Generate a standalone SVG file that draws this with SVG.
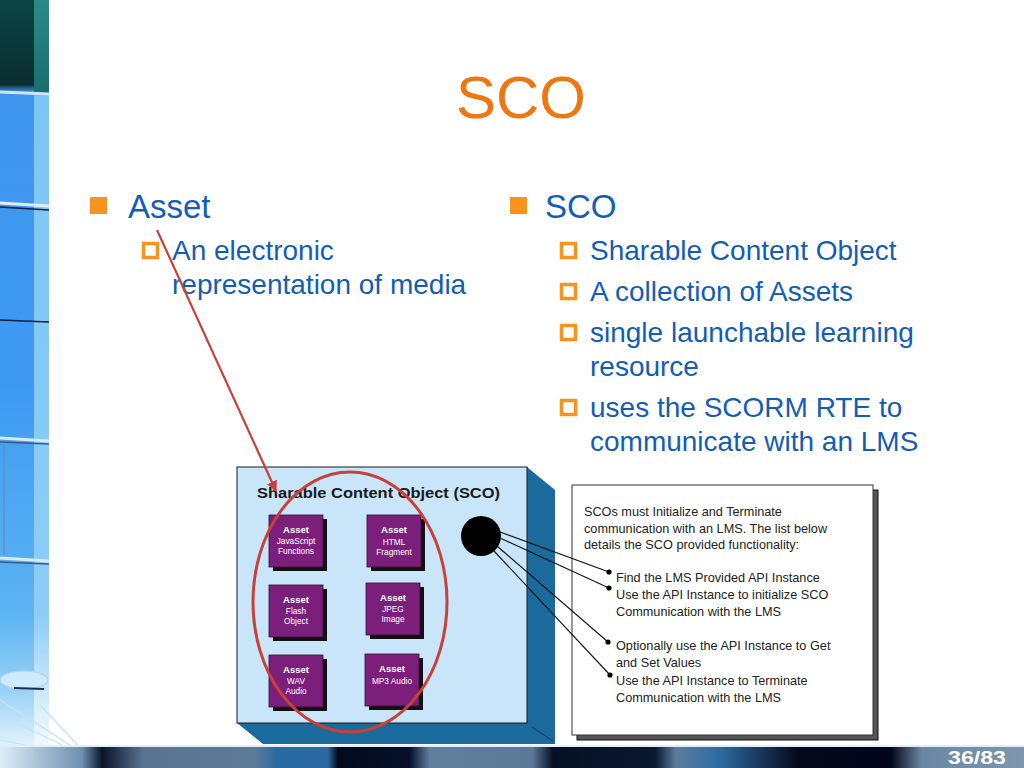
<svg xmlns="http://www.w3.org/2000/svg" width="1024" height="768" viewBox="0 0 1024 768">
<style>
.blue{font-family:"Liberation Sans",Arial,sans-serif;fill:#135DB5}
.h1{font-size:33px}
.h2{font-size:28px}
.fb{fill:#F7931E}
.hb{fill:none;stroke:#F7931E;stroke-width:3.5}
.asset{fill:#7B1F7B;stroke:#3a0a3a;stroke-width:0.8}
.shadow{fill:#111}
.at{font-family:"Liberation Sans",Arial,sans-serif;fill:#fff;text-anchor:middle}
.atb{font-size:9.5px;font-weight:bold}
.ats{font-size:8.3px}
.pt{font-family:"Liberation Sans",Arial,sans-serif;font-size:12.7px;fill:#222}
.conn{stroke:#111;stroke-width:1.1;fill:none}
</style>
<defs>
<linearGradient id="strip" x1="0" y1="0" x2="0" y2="1">
<stop offset="0" stop-color="#0c4446"/>
<stop offset="0.11" stop-color="#0a2d30"/>
<stop offset="0.12" stop-color="#3f95ee"/>
<stop offset="0.5" stop-color="#3d9af2"/>
<stop offset="0.8" stop-color="#5cb4f2"/>
<stop offset="0.9" stop-color="#9ad2f6"/>
<stop offset="1" stop-color="#ffffff"/>
</linearGradient>
<linearGradient id="strip2" x1="0" y1="0" x2="0" y2="1">
<stop offset="0" stop-color="#2a8a86"/>
<stop offset="0.12" stop-color="#1a6e70"/>
<stop offset="0.125" stop-color="#7cc6f6"/>
<stop offset="0.8" stop-color="#8ccdf6"/>
<stop offset="0.92" stop-color="#d8eefc"/>
<stop offset="1" stop-color="#ffffff"/>
</linearGradient>
<linearGradient id="bar" x1="0" y1="0" x2="1" y2="0">
<stop offset="0" stop-color="#dfeefa"/>
<stop offset="0.08" stop-color="#6e8fae"/>
<stop offset="0.1" stop-color="#0a1428"/>
<stop offset="0.14" stop-color="#5a7391"/>
<stop offset="0.25" stop-color="#5d7a99"/>
<stop offset="0.27" stop-color="#2a6aa2"/>
<stop offset="0.32" stop-color="#2a6aa2"/>
<stop offset="0.33" stop-color="#040a1c"/>
<stop offset="0.4" stop-color="#06102a"/>
<stop offset="0.42" stop-color="#61809e"/>
<stop offset="0.52" stop-color="#5b7896"/>
<stop offset="0.54" stop-color="#071024"/>
<stop offset="0.64" stop-color="#0a1830"/>
<stop offset="0.66" stop-color="#5d7b99"/>
<stop offset="0.7" stop-color="#2f6ea4"/>
<stop offset="0.78" stop-color="#04081a"/>
<stop offset="0.87" stop-color="#03061a"/>
<stop offset="0.9" stop-color="#6a86a2"/>
<stop offset="1" stop-color="#7d97b0"/>
</linearGradient>
<marker id="redArrow" viewBox="0 0 10 10" refX="9" refY="5" markerWidth="5" markerHeight="5" orient="auto">
<path d="M0,0 L10,5 L0,10 z" fill="#C8403A"/>
</marker>
</defs>
<rect width="1024" height="768" fill="#fff"/>

<g id="background">
<rect x="0" y="0" width="34" height="768" fill="url(#strip)"/>
<rect x="34" y="0" width="15" height="768" fill="url(#strip2)"/>
<g stroke-width="3">
<line x1="0" y1="92" x2="49" y2="94" stroke="#d0e6f6"/>
<line x1="0" y1="203" x2="49" y2="206" stroke="#e0eef8"/>
<line x1="0" y1="207" x2="49" y2="210" stroke="#0d2040" stroke-width="1.5"/>
<line x1="0" y1="320" x2="49" y2="322" stroke="#0d2040" stroke-width="1.5"/>
<line x1="0" y1="438" x2="49" y2="441" stroke="#d8eaf8"/>
<line x1="0" y1="442" x2="49" y2="444" stroke="#3a5a80" stroke-width="1.5"/>
<line x1="0" y1="558" x2="49" y2="561" stroke="#d8eaf8"/>
<line x1="0" y1="562" x2="49" y2="564" stroke="#3a5a80" stroke-width="1.5"/>
<line x1="4" y1="445" x2="4" y2="555" stroke="#6a8fb6" stroke-width="1.5"/>
</g>
<g stroke="#bfe4fa" stroke-width="1.2" fill="none">
<ellipse cx="24" cy="680" rx="24" ry="9" fill="#cfeafa" stroke="#aad6f4"/>
<line x1="14" y1="688" x2="44" y2="689" stroke="#1a3050" stroke-width="2"/>
<line x1="90" y1="758" x2="0" y2="700"/>
<line x1="90" y1="758" x2="10" y2="720"/>
<line x1="90" y1="758" x2="0" y2="740"/>
<line x1="90" y1="758" x2="0" y2="755"/>
<line x1="90" y1="758" x2="40" y2="705"/>
<line x1="90" y1="758" x2="20" y2="768"/>
</g>
<rect x="0" y="745" width="1024" height="2" fill="#dfeefa"/>
<rect x="0" y="747" width="1024" height="21" fill="url(#bar)"/>
<text x="1006" y="764" text-anchor="end" font-family="Liberation Sans Narrow,Liberation Sans,Arial,sans-serif" font-size="18" font-weight="bold" fill="#fff" textLength="58" lengthAdjust="spacingAndGlyphs">36/83</text>
</g>

<g id="title">
<text x="521" y="118" text-anchor="middle" font-family="Liberation Sans,Arial,sans-serif" font-size="60" fill="#EE7711">SCO</text>
</g>

<g id="left-bullets">
<rect class="fb" x="90" y="197" width="17" height="17"/>
<text class="blue h1" x="128" y="218">Asset</text>
<rect class="hb" x="143.5" y="243.5" width="14" height="14"/>
<text class="blue h2" x="172" y="260">An electronic</text>
<text class="blue h2" x="172" y="294">representation of media</text>
</g>

<g id="right-bullets">
<rect class="fb" x="510" y="197" width="17" height="17"/>
<text class="blue h1" x="545" y="218">SCO</text>
<rect class="hb" x="561.5" y="243.5" width="14" height="14"/>
<text class="blue h2" x="590" y="260">Sharable Content Object</text>
<rect class="hb" x="561.5" y="284.5" width="14" height="14"/>
<text class="blue h2" x="590" y="301">A collection of Assets</text>
<rect class="hb" x="561.5" y="325.5" width="14" height="14"/>
<text class="blue h2" x="590" y="342">single launchable learning</text>
<text class="blue h2" x="590" y="376">resource</text>
<rect class="hb" x="561.5" y="400.5" width="14" height="14"/>
<text class="blue h2" x="590" y="417">uses the SCORM RTE to</text>
<text class="blue h2" x="590" y="451">communicate with an LMS</text>
</g>

<g id="sco-box">
<polygon points="237,723 527,723 527,467 555,490 555,744 263,744" fill="#1B6A9C"/>
<line x1="532" y1="727" x2="553" y2="741" stroke="#0d3a5a" stroke-width="1"/>
<rect x="237" y="467" width="290" height="256" fill="#C8E5F9" stroke="#1a1a1a" stroke-width="1"/>
<text x="257" y="498" font-family="Liberation Sans,Arial,sans-serif" font-size="15.5" font-weight="bold" fill="#1a1a1a" textLength="243" lengthAdjust="spacingAndGlyphs">Sharable Content Object (SCO)</text>
</g>

<g id="asset-js">
<rect class="shadow" x="273" y="519" width="54" height="52"/>
<rect class="asset" x="269" y="515" width="54" height="52"/>
<text class="at atb" x="296" y="533">Asset</text>
<text class="at ats" x="296" y="544">JavaScript</text>
<text class="at ats" x="296" y="554">Functions</text>
</g>
<g id="asset-html">
<rect class="shadow" x="371" y="519" width="54" height="52"/>
<rect class="asset" x="367" y="515" width="54" height="52"/>
<text class="at atb" x="394" y="533">Asset</text>
<text class="at ats" x="394" y="545">HTML</text>
<text class="at ats" x="394" y="555">Fragment</text>
</g>
<g id="asset-flash">
<rect class="shadow" x="273" y="589" width="54" height="52"/>
<rect class="asset" x="269" y="585" width="54" height="52"/>
<text class="at atb" x="296" y="603">Asset</text>
<text class="at ats" x="296" y="614">Flash</text>
<text class="at ats" x="296" y="624">Object</text>
</g>
<g id="asset-jpeg">
<rect class="shadow" x="370" y="587" width="54" height="52"/>
<rect class="asset" x="366" y="583" width="54" height="52"/>
<text class="at atb" x="393" y="601">Asset</text>
<text class="at ats" x="393" y="612">JPEG</text>
<text class="at ats" x="393" y="622">Image</text>
</g>
<g id="asset-wav">
<rect class="shadow" x="273" y="659" width="54" height="52"/>
<rect class="asset" x="269" y="655" width="54" height="52"/>
<text class="at atb" x="296" y="673">Asset</text>
<text class="at ats" x="296" y="684">WAV</text>
<text class="at ats" x="296" y="694">Audio</text>
</g>
<g id="asset-mp3">
<rect class="shadow" x="369" y="658" width="54" height="52"/>
<rect class="asset" x="365" y="654" width="54" height="52"/>
<text class="at atb" x="392" y="672">Asset</text>
<text class="at ats" x="392" y="684">MP3 Audio</text>
</g>

<g id="api-circle">
<circle cx="481" cy="536" r="20" fill="#000"/>
</g>

<g id="info-box">
<rect x="577" y="490" width="301" height="250" fill="#555" stroke="#111" stroke-width="1"/>
<rect x="572" y="485" width="301" height="250" fill="#fff" stroke="#333" stroke-width="1"/>
<text class="pt" x="584" y="516">SCOs must Initialize and Terminate</text>
<text class="pt" x="584" y="533">communication with an LMS.  The list below</text>
<text class="pt" x="584" y="549">details the SCO provided functionality:</text>
<text class="pt" x="616" y="582">Find the LMS Provided API Instance</text>
<text class="pt" x="616" y="599">Use the API Instance to initialize SCO</text>
<text class="pt" x="616" y="616">Communication with the LMS</text>
<text class="pt" x="616" y="650">Optionally use the API Instance to Get</text>
<text class="pt" x="616" y="667">and Set Values</text>
<text class="pt" x="616" y="685">Use the API Instance to Terminate</text>
<text class="pt" x="616" y="702">Communication with the LMS</text>
</g>

<g id="connectors">
<line class="conn" x1="500" y1="532" x2="609" y2="572"/>
<line class="conn" x1="500" y1="538" x2="609" y2="588"/>
<line class="conn" x1="497" y1="546" x2="608" y2="642"/>
<line class="conn" x1="494" y1="551" x2="610" y2="675"/>
<circle cx="609" cy="572" r="2.6" fill="#000"/>
<circle cx="609" cy="588" r="2.6" fill="#000"/>
<circle cx="608" cy="642" r="2.6" fill="#000"/>
<circle cx="610" cy="675" r="2.6" fill="#000"/>
<line x1="157" y1="230" x2="276" y2="491" stroke="#C8403A" stroke-width="2.2" marker-end="url(#redArrow)"/>
</g>

<g id="highlight">
<ellipse cx="350" cy="602" rx="97" ry="130" fill="none" stroke="#C8403A" stroke-width="3"/>
</g>
</svg>
